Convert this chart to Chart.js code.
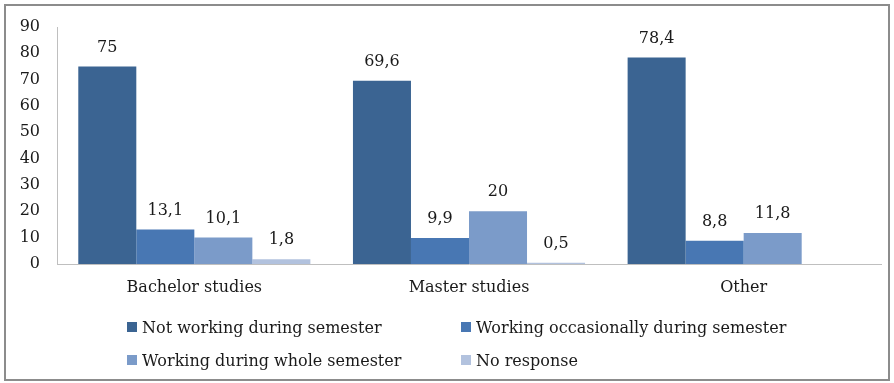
<!DOCTYPE html>
<html>
<head>
<meta charset="utf-8">
<script src="https://cdn.jsdelivr.net/npm/chart.js@4"></script>
<style>
  html, body { margin: 0; padding: 0; background: #fff; }
  #wrap { position: relative; width: 894px; height: 383px; }
  #frame {
    position: absolute; left: 4px; top: 4px; width: 882px; height: 373px;
    border: 2px solid #8c8c8c; pointer-events: none;
  }
  canvas { position: absolute; left: 0; top: 0; }
  #legend {
    position: absolute; left: 127px; top: 316px;
    display: grid; grid-template-columns: 334px 350px; row-gap: 11px;
    font-family: "DejaVu Serif", serif; font-size: 16px; color: #1a1a1a;
  }
  .item { display: flex; align-items: center; height: 22px; white-space: nowrap; }
  .box { width: 10px; height: 10px; margin-right: 5px; flex-shrink: 0; }
</style>
</head>
<body>
<div id="wrap">
  <canvas id="chart" width="894" height="383"></canvas>
  <div id="frame"></div>
  <div id="legend"></div>
</div>
<script>

const categories = ["Bachelor studies", "Master studies", "Other"];

const seriesNames = [
  "Not working during semester",
  "Working occasionally during semester",
  "Working during whole semester",
  "No response"
];

const notWorking = [75, 69.6, 78.4];
const occasionally = [13.1, 9.9, 8.8];
const wholeSemester = [10.1, 20, 11.8];
const noResponse = [1.8, 0.5, null];

const yTicks = [0, 10, 20, 30, 40, 50, 60, 70, 80, 90];

const colors = ["#3b6492", "#4877b3", "#7b9bc9", "#b2c2de"];

const font = "DejaVu Serif";

// value labels above each bar, decimal comma
const valueLabels = {
  id: "valueLabels",
  afterDatasetsDraw(chart) {
    const ctx = chart.ctx;
    ctx.save();
    ctx.font = "16px '" + font + "'";
    ctx.fillStyle = "#1a1a1a";
    ctx.textAlign = "center";
    ctx.textBaseline = "bottom";
    chart.data.datasets.forEach((ds, i) => {
      chart.getDatasetMeta(i).data.forEach((bar, j) => {
        const v = ds.data[j];
        if (v === null) return;
        ctx.fillText(String(v).replace(".", ","), bar.x, bar.y - 11);
      });
    });
    ctx.restore();
  }
};

const data = [notWorking, occasionally, wholeSemester, noResponse];

new Chart(document.getElementById("chart"), {
  type: "bar",
  data: {
    labels: categories,
    datasets: seriesNames.map((name, i) => ({
      label: name,
      data: data[i],
      backgroundColor: colors[i],
      categoryPercentage: 0.845,
      barPercentage: 1
    }))
  },
  options: {
    responsive: false,
    animation: false,
    layout: { padding: { top: 27, right: 13, left: 0, bottom: 0 } },
    plugins: {
      legend: { display: false },
      tooltip: { enabled: false }
    },
    scales: {
      x: {
        grid: { display: false, drawTicks: false },
        border: { color: "#bfbfbf", width: 1 },
        ticks: {
          color: "#1a1a1a",
          padding: 14,
          font: { family: font, size: 16 }
        },
        afterFit(scale) { scale.height = 383 - 264; }
      },
      y: {
        min: 0,
        max: 90,
        afterBuildTicks(scale) {
          scale.ticks = yTicks.map(v => ({ value: v }));
        },
        grid: { display: false, drawTicks: false },
        border: { color: "#bfbfbf", width: 1 },
        ticks: {
          color: "#1a1a1a",
          padding: 17,
          font: { family: font, size: 16 }
        },
        afterFit(scale) { scale.width = 57; }
      }
    }
  },
  plugins: [valueLabels]
});

// legend in two rows of two
const legend = document.getElementById("legend");
[0, 1, 2, 3].forEach(i => {
  const item = document.createElement("div");
  item.className = "item";
  item.innerHTML = `<span class="box" style="background:${colors[i]}"></span>${seriesNames[i]}`;
  legend.appendChild(item);
});

</script>
</body>
</html>
